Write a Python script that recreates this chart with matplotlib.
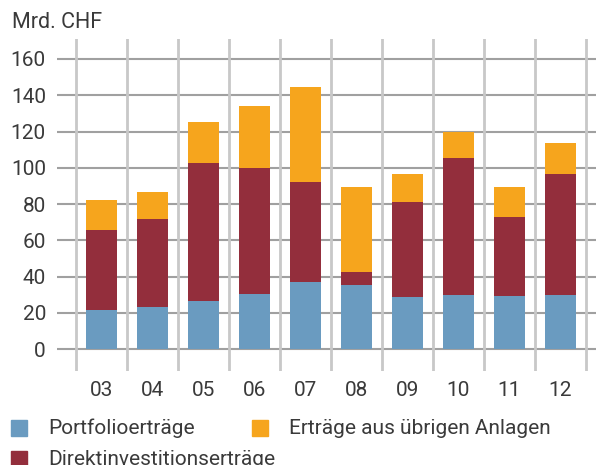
import matplotlib
matplotlib.use("Agg")
import matplotlib.pyplot as plt
from matplotlib.patches import Rectangle
import numpy as np

jahre = ["03", "04", "05", "06", "07", "08", "09", "10", "11", "12"]
portfolio = [21.5, 23.2, 26.5, 30.3, 37.0, 35.3, 28.7, 29.8, 29.2, 29.8]
direkt_top = [65.7, 71.7, 102.6, 99.9, 92.1, 42.5, 81.1, 105.4, 72.8, 96.6]
total = [82.2, 86.6, 125.2, 134.1, 144.6, 89.4, 96.6, 119.9, 89.4, 113.7]
yticks = [0, 20, 40, 60, 80, 100, 120, 140, 160]
namen = ["Portfolioerträge", "Direktinvestitionserträge", "Erträge aus übrigen Anlagen"]

direkt = [d - p for d, p in zip(direkt_top, portfolio)]
uebrige = [t - d for t, d in zip(total, direkt_top)]

blau = "#6a9bc0"
rot = "#932e3c"
orange = "#f6a51d"
txt = "#3a3a3a"

plt.rcParams['font.family'] = ['Roboto', 'DejaVu Sans']

W, H = 596, 465
fig = plt.figure(figsize=(W/100, H/100), dpi=100)
ax = fig.add_axes([57/W, 1-371/H, 1-57/W, (371-39)/H])

x = np.arange(len(jahre))
for yv in yticks:
    ax.axhline(yv, color="#a0a0a0", lw=1.5, zorder=1)
for xv in np.arange(-0.5, len(jahre), 1.0):
    ax.axvline(xv, color="#c8c8c8", lw=2, zorder=1)

w = 0.61
ax.bar(x, portfolio, w, color=blau, zorder=2)
ax.bar(x, direkt, w, bottom=portfolio, color=rot, zorder=2)
ax.bar(x, uebrige, w, bottom=direkt_top, color=orange, zorder=2)

ax.set_xlim(-0.87, 9.7)
ax.set_ylim(-12, 171)
ax.set_yticks(yticks)
ax.set_xticks(x)
ax.set_xticklabels(jahre)
ax.tick_params(length=0, labelsize=15, colors=txt)
ax.tick_params(axis='y', pad=8)
ax.tick_params(axis='x', pad=7)
for s in ax.spines.values():
    s.set_visible(False)

fig.text(12/W, 1-22/H, "Mrd. CHF", fontsize=15.5, color=txt, va="center", ha="left")

# Legende von Hand
eintraege = [(11, 428, blau, namen[0]), (11, 459, rot, namen[1]), (252, 428, orange, namen[2])]
for px, py, col, name in eintraege:
    fig.patches.append(Rectangle((px/W, 1-(py+8)/H), 16/W, 16/H, color=col,
                                 transform=fig.transFigure, figure=fig))
    fig.text((px+37)/W, 1-py/H, name, fontsize=15, color=txt, va="center", ha="left")

fig.savefig("out.png", dpi=100)
